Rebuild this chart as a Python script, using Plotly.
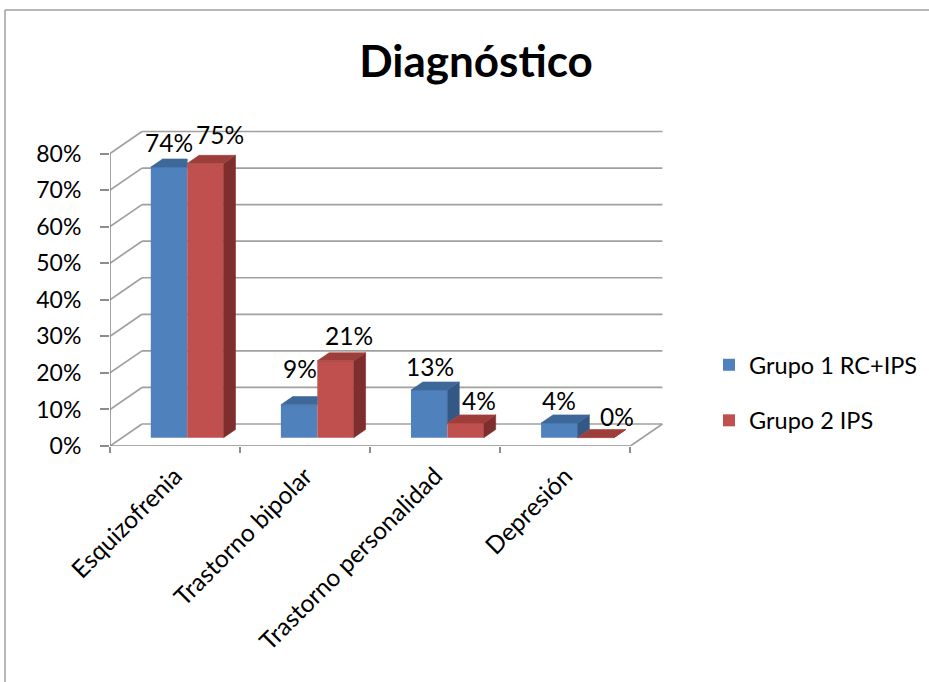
import plotly.graph_objects as go

# ---------------- data ----------------
categories = ["Esquizofrenia", "Trastorno bipolar", "Trastorno personalidad", "Depresión"]
grupo1 = [74, 9, 13, 4]      # Grupo 1 RC+IPS (%)
grupo2 = [75, 21, 4, 0]      # Grupo 2 IPS (%)
series_names = ["Grupo 1 RC+IPS", "Grupo 2 IPS"]
y_ticks = [0, 10, 20, 30, 40, 50, 60, 70, 80]
y_tick_labels = [f"{v}%" for v in y_ticks]
title_text = "Diagnóstico"

# ---------------- style / geometry ----------------
W, H = 929, 682
ML, MR, MT, MB = 110, 260, 100, 236
PX_CAT = 130.1          # pixels per category
PX_PCT = 3.656          # pixels per percent
plot_w = W - ML - MR
plot_h = H - MT - MB
x_range = [-0.5, -0.5 + plot_w / PX_CAT]
y_range = [0, plot_h / PX_PCT]

DX = 32 / PX_CAT        # depth of the floor (data units)
DY = 22 / PX_PCT
FX, FY = 0.38 * DX, 0.38 * DY     # bar front plane offset
BDX, BDY = 0.37 * DX, 0.37 * DY   # bar depth
BW = 0.28                          # bar width (category units)

FONT = "Lato"
BLUE, BLUE_TOP, BLUE_SIDE = "#4F81BD", "#3F689A", "#345886"
RED, RED_TOP, RED_SIDE = "#C0504D", "#9E3E3B", "#7E2F2D"
GRID = "#A0A0A0"
AXIS = "#8C8C8C"

lab_dx_1 = [0, 1, 1, 0]
lab_dx_2 = [15, 13, 13, 21]
lab_dy_1 = [25, 36, 24, 23]
lab_dy_2 = [29, 25, 23, 21]

fig = go.Figure()

# ---------------- back wall / left wall / floor (shapes below) ----------------
shapes = []
for v in y_ticks:
    shapes.append(dict(type="line", xref="x", yref="y", layer="below",
                       x0=-0.5 + DX, y0=v + DY, x1=3.5 + DX, y1=v + DY,
                       line=dict(color=GRID, width=1.7)))
    shapes.append(dict(type="line", xref="x", yref="y", layer="below",
                       x0=-0.5, y0=v, x1=-0.5 + DX, y1=v + DY,
                       line=dict(color=GRID, width=1.7)))
shapes.append(dict(type="line", xref="x", yref="y", layer="below",
                   x0=3.5, y0=0, x1=3.5 + DX, y1=DY,
                   line=dict(color=GRID, width=1.7)))
# front axes
shapes.append(dict(type="line", xref="x", yref="y", layer="below",
                   x0=-0.5, y0=0, x1=3.5, y1=0, line=dict(color=AXIS, width=1.6)))
shapes.append(dict(type="line", xref="x", yref="y", layer="below",
                   x0=-0.5, y0=0, x1=-0.5, y1=y_ticks[-1], line=dict(color=AXIS, width=1.6)))
# outer border: top and left edges only
shapes.append(dict(type="line", xref="paper", yref="paper", layer="below",
                   x0=(5 - ML) / plot_w, x1=(W - ML) / plot_w,
                   y0=(H - MB - 10) / plot_h, y1=(H - MB - 10) / plot_h,
                   line=dict(color="#A0A0A0", width=1.5)))
shapes.append(dict(type="line", xref="paper", yref="paper", layer="below",
                   x0=(5 - ML) / plot_w, x1=(5 - ML) / plot_w,
                   y0=(H - MB - 10) / plot_h, y1=(H - MB - H) / plot_h,
                   line=dict(color="#A0A0A0", width=1.5)))

# ---------------- front faces (bars) ----------------
xc = [i + FX for i in range(len(categories))]
fig.add_trace(go.Bar(x=xc, y=grupo1, base=FY, width=BW, offset=-BW,
                     marker=dict(color=BLUE, line=dict(width=0)),
                     name=series_names[0], legendgroup="g1", hoverinfo="skip"))
fig.add_trace(go.Bar(x=xc, y=grupo2, base=FY, width=BW, offset=0,
                     marker=dict(color=RED, line=dict(width=0)),
                     name=series_names[1], legendgroup="g2", hoverinfo="skip"))

# ---------------- top and side faces ----------------
def poly_trace(polys, color):
    xs, ys = [], []
    for p in polys:
        for (a, b) in p:
            xs.append(a)
            ys.append(b)
        xs.append(p[0][0]); ys.append(p[0][1])
        xs.append(None); ys.append(None)
    return go.Scatter(x=xs, y=ys, mode="lines", fill="toself", fillcolor=color,
                      line=dict(color=color, width=0.6), showlegend=False,
                      hoverinfo="skip", connectgaps=False)

b_top, b_side, r_top, r_side = [], [], [], []
for i, c in enumerate(xc):
    b, r = grupo1[i], grupo2[i]
    tb, tr = FY + b, FY + r
    if r >= b:
        b_top.append([(c - BW, tb), (c, tb), (c, tb + BDY), (c - BW + BDX, tb + BDY)])
    else:
        b_top.append([(c - BW, tb), (c, tb), (c + BDX, tb + BDY), (c - BW + BDX, tb + BDY)])
        b_side.append([(c, FY + r), (c + BDX, FY + r + BDY), (c + BDX, tb + BDY), (c, tb)])
    r_top.append([(c, tr), (c + BW, tr), (c + BW + BDX, tr + BDY), (c + BDX, tr + BDY)])
    r_side.append([(c + BW, FY), (c + BW + BDX, FY + BDY), (c + BW + BDX, tr + BDY), (c + BW, tr)])

fig.add_trace(poly_trace(b_side, BLUE_SIDE))
fig.add_trace(poly_trace(b_top, BLUE_TOP))
fig.add_trace(poly_trace(r_side, RED_SIDE))
fig.add_trace(poly_trace(r_top, RED_TOP))

# ---------------- data labels ----------------
annotations = []
for i, c in enumerate(xc):
    annotations.append(dict(x=c - BW / 2, y=FY + grupo1[i], xref="x", yref="y",
                            text=f"{grupo1[i]}%", showarrow=False,
                            xshift=lab_dx_1[i], yshift=lab_dy_1[i], yanchor="middle",
                            font=dict(family=FONT, size=24.5, color="black")))
    annotations.append(dict(x=c + BW / 2, y=FY + grupo2[i], xref="x", yref="y",
                            text=f"{grupo2[i]}%", showarrow=False,
                            xshift=lab_dx_2[i], yshift=lab_dy_2[i], yanchor="middle",
                            font=dict(family=FONT, size=24.5, color="black")))

fig.update_layout(
    width=W, height=H,
    margin=dict(l=ML, r=MR, t=MT, b=MB, autoexpand=False),
    paper_bgcolor="white", plot_bgcolor="white",
    barmode="overlay",
    title=dict(text=f"<b>{title_text}</b>", x=476 / W, xanchor="center",
               y=1 - 62 / H, yanchor="middle", xref="container", yref="container",
               font=dict(family=FONT, size=44, color="black")),
    showlegend=True,
    legend=dict(x=709 / W, y=1 - 343 / H, xref="container", yref="container",
                xanchor="left", yanchor="top", tracegroupgap=22,
                font=dict(family=FONT, size=23.5, color="black"),
                bgcolor="rgba(0,0,0,0)"),
    shapes=shapes,
    annotations=annotations,
    xaxis=dict(range=x_range, showgrid=False, zeroline=False, showline=False,
               tickmode="array", tickvals=list(range(len(categories))), ticktext=categories,
               ticks="", tickangle=-45, ticklabelstandoff=10,
               tickfont=dict(family=FONT, size=24.5, color="black"),
               minor=dict(tickmode="array", tickvals=[k - 0.5 for k in range(len(categories) + 1)],
                          ticks="outside", ticklen=6, tickcolor=AXIS, tickwidth=1.6,
                          showgrid=False),
               fixedrange=True),
    yaxis=dict(range=y_range, showgrid=False, zeroline=False, showline=False,
               tickmode="array", tickvals=y_ticks, ticktext=y_tick_labels,
               ticks="outside", ticklen=9, tickcolor=AXIS, tickwidth=1.6,
               ticklabelstandoff=14,
               tickfont=dict(family=FONT, size=23, color="black"),
               fixedrange=True),
)

fig.write_html("out.html")
